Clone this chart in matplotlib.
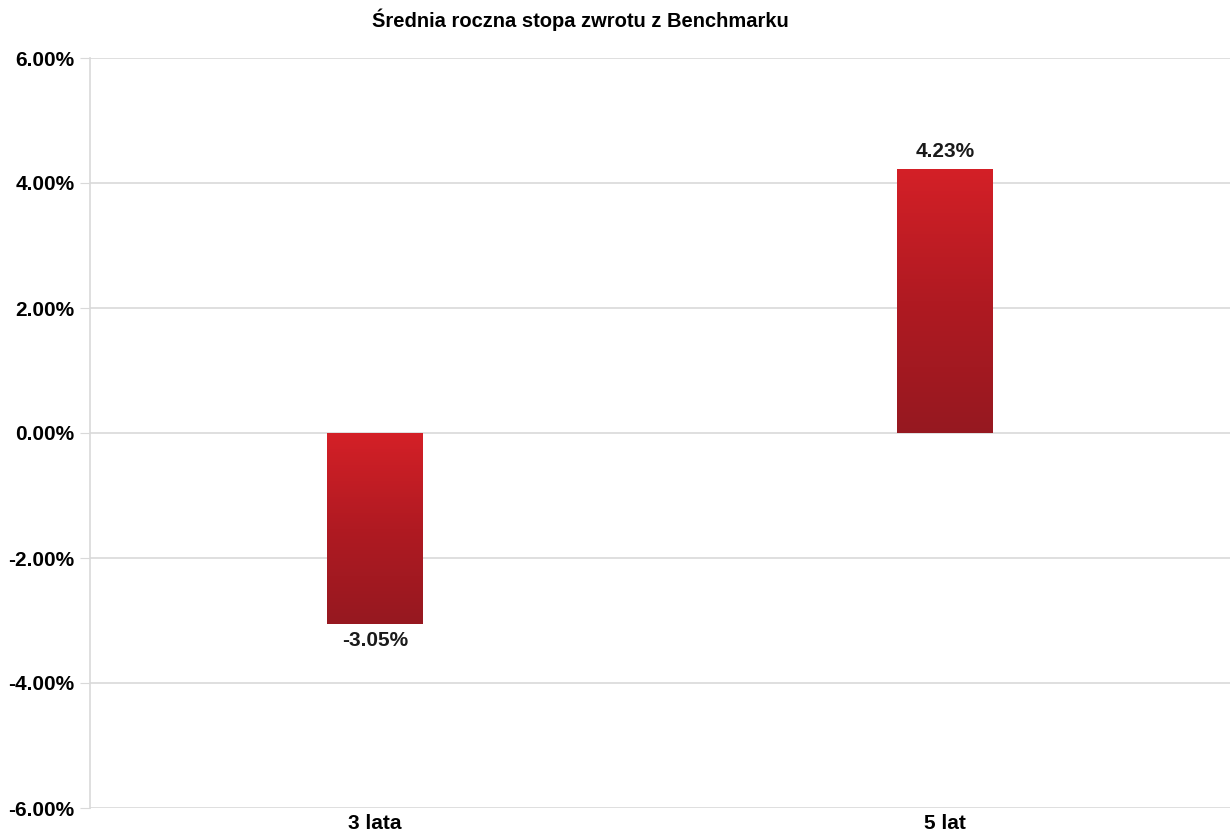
import numpy as np
import matplotlib.pyplot as plt
from matplotlib.colors import LinearSegmentedColormap

plt.rcParams['font.family'] = ['Liberation Sans', 'DejaVu Sans']

categories = ['3 lata', '5 lat']
values = [-3.05, 4.23]
labels = ['-3.05%', '4.23%']
yticks = [-6, -4, -2, 0, 2, 4, 6]

fig = plt.figure(figsize=(12.32, 8.34), dpi=100)
ax = fig.add_axes([90/1232, 26/834, 1140/1232, 750/834])

x = np.arange(len(categories))
bars = ax.bar(x, values, width=0.1667, color='none', edgecolor='none', zorder=3)

# vertical gradient, light red on top, dark red at the bottom
cmap = LinearSegmentedColormap.from_list('rg', ['#961820', '#b01a22', '#d42027'])
grad = np.linspace(0, 1, 256).reshape(-1, 1)
for b in bars:
    x0, y0 = b.get_x(), b.get_y()
    w, h = b.get_width(), b.get_height()
    lo, hi = min(y0, y0 + h), max(y0, y0 + h)
    im = ax.imshow(grad, cmap=cmap, aspect='auto', origin='lower',
                   extent=[x0, x0 + w, lo, hi], zorder=3)
    im.set_clip_path(b)

for xi, v, t in zip(x, values, labels):
    off = 0.12 if v > 0 else -0.12
    ax.text(xi, v + off, t, ha='center', va='bottom' if v > 0 else 'top',
            fontsize=15, fontweight='bold', color='#1a1a1a')

ax.set_xlim(-0.5, 1.5)
ax.set_ylim(-6, 6)
ax.set_yticks(yticks)
ax.set_yticklabels(['%.2f%%' % t for t in yticks], fontsize=15, fontweight='bold')
ax.set_xticks(x)
ax.set_xticklabels(categories, fontsize=15, fontweight='bold')
ax.tick_params(axis='y', length=7, color='#d9d9d9', pad=4)
ax.tick_params(axis='x', length=0, pad=4)
ax.grid(axis='y', color='#d9d9d9', linewidth=1.2, zorder=0)
for s in ['top', 'right', 'bottom']:
    ax.spines[s].set_visible(False)
ax.spines['left'].set_color('#d9d9d9')
ax.spines['left'].set_linewidth(1.2)

fig.text(580/1232, 1 - 20/834, 'Średnia roczna stopa zwrotu z Benchmarku',
         ha='center', va='center', fontsize=14.5, fontweight='bold')

fig.savefig('out.png', dpi=100)
